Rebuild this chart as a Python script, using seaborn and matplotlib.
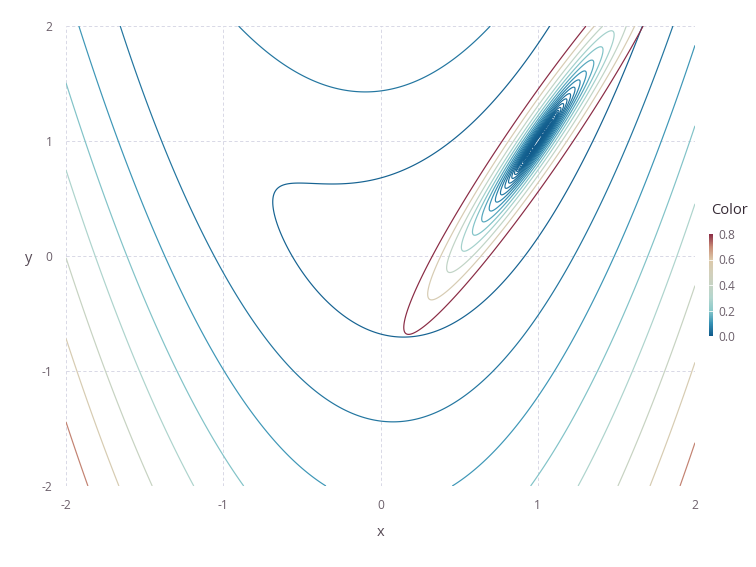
import numpy as np
import matplotlib
matplotlib.use("Agg")
import matplotlib.pyplot as plt
from matplotlib.colors import Normalize
from matplotlib.cm import ScalarMappable
import seaborn as sns

# valley function (1-x)^2 + VALLEY_WEIGHT*(y-x^2)^2 and a quadratic model around the minimum
VALLEY_WEIGHT = 4.0
MODEL_CENTER = (1.0, 1.0)
MODEL_COEFS = (15.66, -15.3, 4.02)   # a*dx^2 + b*dx*dy + c*dy^2

# contour levels
outer_levels = [2.84, 9.24, 19.8, 33.9, 51.3, 73.5, 98.0, 127.5]
outer_scale = 180.0   # outer level / outer_scale -> colour value
inner_levels = [0.001, 0.002, 0.003, 0.004, 0.005, 0.006, 0.007, 0.008,
                0.009, 0.010, 0.012, 0.014, 0.016, 0.018, 0.020, 0.024,
                0.030, 0.038, 0.048, 0.062, 0.08, 0.105, 0.14, 0.19,
                0.26, 0.37, 0.54, 0.8]

key_ticks = [0.0, 0.2, 0.4, 0.6, 0.8]
axis_ticks = [-2, -1, 0, 1, 2]

gradient = ["#105a8b", "#3592b5", "#8ccaca", "#b4d6ce", "#c6d3c3",
            "#d3cfba", "#dcc8a8", "#c98c76", "#8a2c45"]

sns.set_style("white")
plt.rcParams["font.family"] = ["Open Sans", "DejaVu Sans"]
plt.rcParams["axes.unicode_minus"] = False

cmap = sns.blend_palette(gradient, as_cmap=True)

xs = np.linspace(-2, 2, 801)
X, Y = np.meshgrid(xs, xs)
F = (1 - X) ** 2 + VALLEY_WEIGHT * (Y - X ** 2) ** 2

fine = np.linspace(-2, 2, 2001)
XF, YF = np.meshgrid(fine, fine)
dx = XF - MODEL_CENTER[0]
dy = YF - MODEL_CENTER[1]
a, b, c = MODEL_COEFS
Q = a * dx ** 2 + b * dx * dy + c * dy ** 2

fig = plt.figure(figsize=(756 / 96, 567 / 96), dpi=96)
ax = fig.add_axes([66 / 756, 1 - 486 / 567, 629 / 756, 460 / 567])

ax.contour(X, Y, F, levels=outer_levels, cmap=cmap,
           norm=Normalize(0, 0.8 * outer_scale), linewidths=0.9)
ax.contour(XF, YF, Q, levels=inner_levels, cmap=cmap,
           norm=Normalize(0, 0.8), linewidths=0.9)

ax.set_xlim(-2, 2)
ax.set_ylim(-2, 2)
ax.set_xticks(axis_ticks)
ax.set_yticks(axis_ticks)
ax.set_xticklabels([str(t) for t in axis_ticks])
ax.set_yticklabels([str(t) for t in axis_ticks])
ax.tick_params(length=0, labelsize=9, labelcolor="#6C606B", pad=10)
for s in ax.spines.values():
    s.set_visible(False)
ax.grid(True, color="#D0D0E0", linestyle=(0, (4, 3)), linewidth=0.6)
ax.set_axisbelow(True)

fig.text(381 / 756, 1 - 533 / 567, "x", ha="center", va="center",
         fontsize=11, color="#564A55")
fig.text(29 / 756, 1 - 258 / 567, "y", ha="center", va="center",
         fontsize=11, color="#564A55")

# colour key
cax = fig.add_axes([709 / 756, 1 - 336 / 567, 4 / 756, 102 / 567])
cb = fig.colorbar(ScalarMappable(norm=Normalize(0, 0.8), cmap=cmap), cax=cax)
cb.outline.set_visible(False)
cb.set_ticks(key_ticks)
cb.set_ticklabels([f"{t:.1f}" for t in key_ticks])
cax.tick_params(length=0, labelsize=9, labelcolor="#6C606B", pad=4)
for t in key_ticks[1:-1]:
    cax.axhline(t, color="white", linewidth=0.6)
fig.text(711 / 756, 1 - 210 / 567, "Color", ha="left", va="center",
         fontsize=11, color="#362A35")

fig.savefig("out.png", dpi=96)
